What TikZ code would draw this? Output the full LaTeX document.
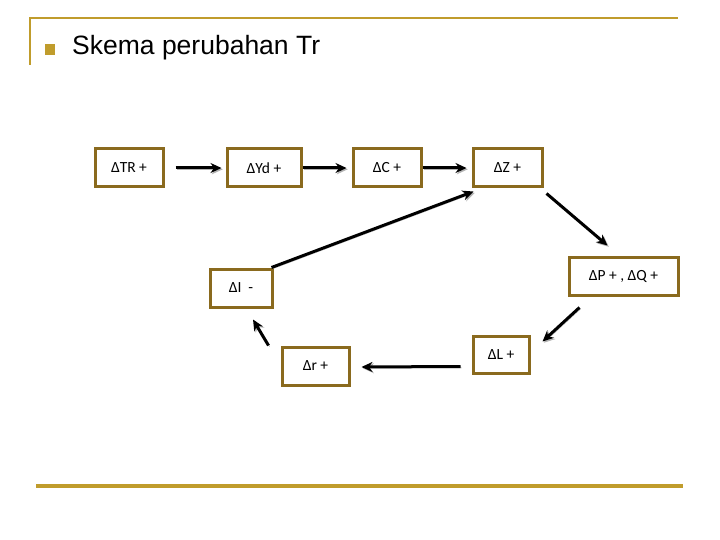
\documentclass[tikz,border=0pt]{standalone}
\usepackage{fontspec}
\setmainfont{Liberation Sans}
\newfontfamily\boxfont{Carlito}
\usepackage{tikz}
\usetikzlibrary{arrows.meta,positioning,calc}
\definecolor{gold}{HTML}{C09C2C}
\definecolor{boxedge}{HTML}{8A6A1E}

\begin{document}
\begin{tikzpicture}[x=1pt, y=-1pt,
    stepbox/.style={draw=boxedge, line width=3pt, fill=white, minimum height=38pt,
      inner sep=2pt, font=\boxfont\fontsize{15.5}{18}\selectfont},
    arr/.style={line width=3pt, -{Stealth[length=11pt, width=10pt]},
      preaction={draw=black!30, transform canvas={shift={(1.3pt,-1.3pt)}}}}]
    \useasboundingbox (0,0) rectangle (720,540);

    \draw[gold, line width=2.6pt] (30,65) -- (30,18) -- (678,18);
    \draw[gold, line width=3.2pt] (36,486) -- (683,486);
    \fill[gold] (45,44) rectangle (55,55);
    \node[anchor=base west, inner sep=0pt, font=\fontsize{26.5}{30}\selectfont] (title) at (72,55) {Skema perubahan Tr};

    \node[stepbox, minimum width=68pt] (tr) at (129,168) {ΔTR +};
    \node[stepbox, minimum width=74pt] (yd) at (264,168) {ΔYd +};
    \node[stepbox, minimum width=68pt] (c) at (387,168) {ΔC +};
    \node[stepbox, minimum width=69pt] (z) at (507.5,168) {ΔZ +};
    \node[stepbox, minimum width=109pt] (pq) at (623.5,276) {ΔP + , ΔQ +};
    \node[stepbox, minimum width=56pt, minimum height=37pt] (l) at (501,354.5) {ΔL +};
    \node[stepbox, minimum width=67pt] (r) at (315.5,366) {Δr +};
    \node[stepbox, minimum width=62pt] (i) at (241,288) {ΔI\ \ -};

    \draw[arr, shorten <=11pt, shorten >=4pt] (tr.east) -- (yd.west);
    \draw[arr, shorten >=5pt] (yd.east) -- (c.west);
    \draw[arr, shorten >=5pt] (c.east) -- (z.west);
    \draw[arr] ($(z.south east)+(3,5)$) -- ($(pq.north)+(-16,-10)$);
    \draw[arr] ($(pq.south west)+(12,11)$) -- ($(l.north east)+(12,7)$);
    \draw[arr] ($(l.west)+(-11,12)$) -- ($(r.east)+(11,1)$);
    \draw[arr] ($(r.north west)+(-12,0)$) -- ($(i.south)+(12,11)$);
    \draw[arr] ($(i.north east)+(-2,0)$) -- ($(z.south west)+(2,3)$);
\end{tikzpicture}
\end{document}
